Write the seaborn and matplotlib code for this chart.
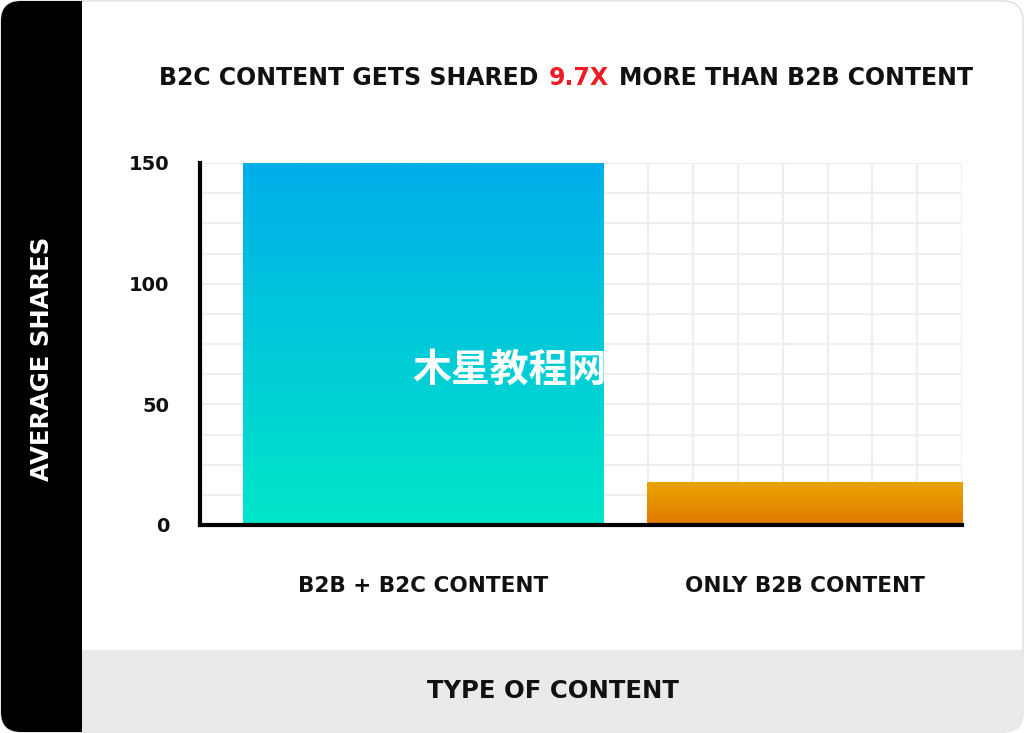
import numpy as np
import matplotlib
matplotlib.use("Agg")
import matplotlib.pyplot as plt
import seaborn as sns
from matplotlib.patches import FancyBboxPatch, Rectangle
from matplotlib.colors import LinearSegmentedColormap
from matplotlib.ticker import MultipleLocator

# data
categories = ["B2B + B2C CONTENT", "ONLY B2B CONTENT"]
avg_shares = [150, 18]
y_ticks = [0, 50, 100, 150]
title_parts = ["B2C CONTENT GETS SHARED", "9.7X", "MORE THAN B2B CONTENT"]
title_colors = ["#111111", "#EE1C25", "#111111"]

# style
bar_widths = [0.944, 0.826]
top_colors = ["#00AEEA", "#E8A600"]
bottom_colors = ["#00E6C8", "#E27800"]

sns.set_theme(style="white")
plt.rcParams["font.family"] = ["DejaVu Sans", "Noto Sans CJK SC"]

W, H = 1024, 733
fig = plt.figure(figsize=(W / 100, H / 100), dpi=100)
fig.patch.set_facecolor("white")

# card background with rounded corners
card = FancyBboxPatch((0.01, 0.01), W / 100 - 0.02, H / 100 - 0.02,
                      boxstyle="round,pad=0,rounding_size=0.2",
                      transform=fig.dpi_scale_trans, fc="white", ec="#DDDDDD", lw=1, zorder=-3)
fig.patches.append(card)
side = Rectangle((0, 0), 0.82, H / 100, transform=fig.dpi_scale_trans, fc="black", ec="none", zorder=-2)
side.set_clip_path(card)
fig.patches.append(side)
band = Rectangle((0.82, 0), W / 100, 0.83, transform=fig.dpi_scale_trans, fc="#EAEAEA", ec="none", zorder=-2)
band.set_clip_path(card)
fig.patches.append(band)

ax = fig.add_axes([200 / W, 1 - 525 / H, 762 / W, 362 / H])
ax.set_facecolor("none")
sns.barplot(x=categories, y=avg_shares, ax=ax, width=0.94, color="white")

xl = (-0.5845, 1.4128)
for p, w, ct, cb in zip(ax.patches, bar_widths, top_colors, bottom_colors):
    cx = p.get_x() + p.get_width() / 2
    p.set_width(w)
    p.set_x(cx - w / 2)
    p.set_facecolor("none")
    p.set_edgecolor("none")
    cmap = LinearSegmentedColormap.from_list("g", [cb, ct])
    grad = np.linspace(0, 1, 256).reshape(-1, 1)
    im = ax.imshow(grad, extent=[p.get_x(), p.get_x() + w, 0, p.get_height()],
                   origin="lower", cmap=cmap, aspect="auto", zorder=1.5)
    im.set_clip_path(p)

ax.set_xlim(*xl)
ax.set_ylim(0, 150)
ax.set_yticks(y_ticks)
ax.yaxis.set_minor_locator(MultipleLocator(12.5))
ax.set_xticks(np.linspace(xl[0], xl[1], 18), minor=True)
ax.grid(which="both", color="#EEEEEE", lw=1.5)
ax.xaxis.grid(False, which="major")
ax.set_axisbelow(True)

for s in ["top", "right"]:
    ax.spines[s].set_visible(False)
for s in ["left", "bottom"]:
    ax.spines[s].set_color("black")
    ax.spines[s].set_linewidth(3)

ax.tick_params(axis="both", which="both", length=0)
ax.tick_params(axis="y", pad=22, labelsize=14)
ax.tick_params(axis="x", pad=37, labelsize=15.5)
for lab in ax.get_xticklabels() + ax.get_yticklabels():
    lab.set_fontweight("bold")
    lab.set_color("#111111")
ax.set_xlabel("")
ax.set_ylabel("")

fig.text(42 / W, 1 - 359 / H, "AVERAGE SHARES", rotation=90, color="white",
         fontsize=17.5, fontweight="bold", ha="center", va="center")
fig.text(553 / W, 1 - 691 / H, "TYPE OF CONTENT", color="#111111",
         fontsize=17.5, fontweight="bold", ha="center", va="center")

# watermark
fig.text(510 / W, 1 - 370 / H, "木星教程网", color="white", fontsize=28, fontweight="bold",
         family=["Noto Sans CJK SC", "DejaVu Sans"], ha="center", va="center")

# multi-coloured title
renderer = fig.canvas.get_renderer()
texts = [fig.text(0, 1 - 85 / H, t, color=c, fontsize=17, fontweight="bold",
                  ha="left", va="baseline") for t, c in zip(title_parts, title_colors)]
gap = 10
widths = [t.get_window_extent(renderer).width for t in texts]
total = sum(widths) + gap * (len(texts) - 1)
x = 566 - total / 2
for t, w in zip(texts, widths):
    t.set_x(x / W)
    x += w + gap

fig.savefig("out.png", dpi=100)
